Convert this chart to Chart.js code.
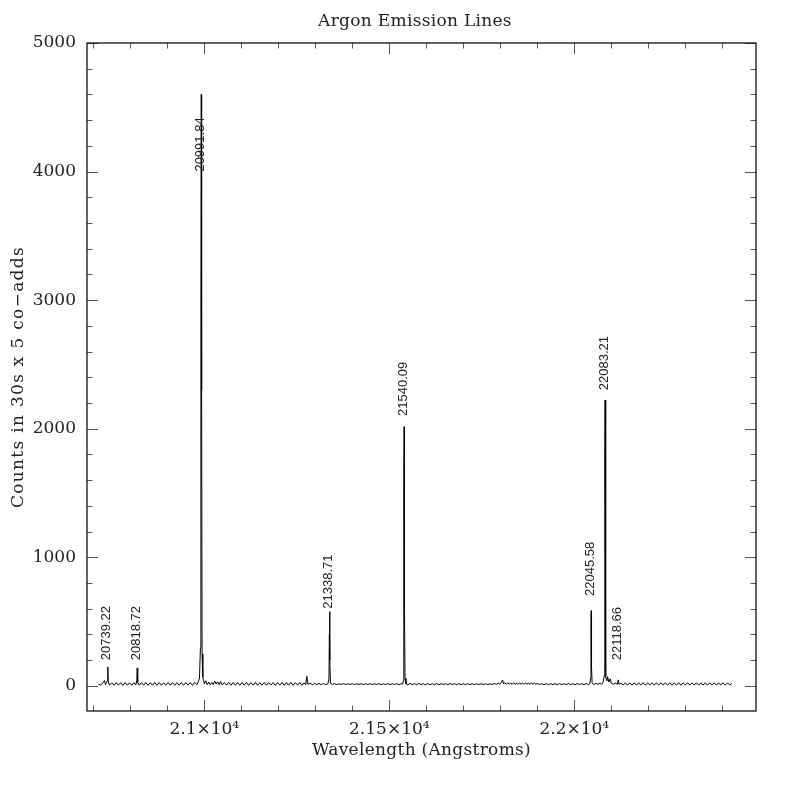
<!DOCTYPE html>
<html>
<head>
<meta charset="utf-8">
<script src="https://cdn.jsdelivr.net/npm/chart.js@4/dist/chart.umd.min.js"></script>
<style>
  html, body { margin: 0; padding: 0; background: #fff; }
</style>
</head>
<body>
<canvas id="myChart" width="797" height="797"></canvas>
<script>
// spectrum (wavelength in Angstroms, counts)
const wavelength = [
  20714, 20720, 20726, 20730, 20733, 20736, 20738, 20739.22, 20740.5, 20744,
  20750, 20756, 20762, 20768, 20774, 20780, 20786, 20792, 20798, 20804,
  20810, 20815, 20817.5, 20818.72, 20820, 20824, 20830, 20836, 20842, 20848,
  20854, 20860, 20866, 20872, 20878, 20884, 20890, 20896, 20902, 20908,
  20914, 20920, 20926, 20932, 20938, 20944, 20950, 20956, 20962, 20968,
  20974, 20980, 20984, 20987, 20989.5, 20990.8, 20991.84, 20992.8, 20994, 20996,
  21000, 21004, 21008, 21012, 21016, 21020, 21024, 21028, 21032, 21036,
  21040, 21044, 21048, 21054, 21060, 21066, 21072, 21078, 21084, 21090,
  21096, 21102, 21108, 21114, 21120, 21126, 21132, 21138, 21144, 21150,
  21156, 21162, 21168, 21174, 21180, 21186, 21192, 21198, 21204, 21210,
  21216, 21222, 21228, 21234, 21240, 21246, 21252, 21258, 21264, 21270,
  21274, 21277, 21280, 21286, 21292, 21298, 21304, 21310, 21316, 21322,
  21328, 21334, 21337, 21338, 21338.71, 21339.6, 21341, 21346, 21352, 21358,
  21364, 21370, 21376, 21382, 21388, 21394, 21400, 21406, 21412, 21418,
  21424, 21430, 21436, 21442, 21448, 21454, 21460, 21466, 21472, 21478,
  21484, 21490, 21496, 21502, 21508, 21514, 21520, 21526, 21532, 21536,
  21538, 21539.2, 21540.09, 21541, 21542.5, 21545, 21550, 21556, 21562, 21568,
  21574, 21580, 21586, 21592, 21598, 21604, 21610, 21616, 21622, 21628,
  21634, 21640, 21646, 21652, 21658, 21664, 21670, 21676, 21682, 21688,
  21694, 21700, 21706, 21712, 21718, 21724, 21730, 21736, 21742, 21748,
  21754, 21760, 21766, 21772, 21778, 21784, 21790, 21794, 21798, 21802,
  21806, 21809, 21812, 21816, 21820, 21824, 21828, 21832, 21836, 21840,
  21844, 21848, 21852, 21856, 21860, 21864, 21868, 21872, 21876, 21880,
  21884, 21888, 21892, 21896, 21900, 21906, 21912, 21918, 21924, 21930,
  21936, 21942, 21948, 21954, 21960, 21966, 21972, 21978, 21984, 21990,
  21996, 22002, 22008, 22014, 22020, 22026, 22032, 22038, 22042, 22044,
  22045, 22045.58, 22046.5, 22048, 22052, 22058, 22064, 22070, 22074, 22078,
  22081, 22082.4, 22083.21, 22084.1, 22085.5, 22088, 22090, 22093, 22097, 22100,
  22106, 22112, 22116, 22118.66, 22121, 22126, 22132, 22138, 22144, 22150,
  22156, 22162, 22168, 22174, 22180, 22186, 22192, 22198, 22204, 22210,
  22216, 22222, 22228, 22234, 22240, 22246, 22252, 22258, 22264, 22270,
  22276, 22282, 22288, 22294, 22300, 22306, 22312, 22318, 22324, 22330,
  22336, 22342, 22348, 22354, 22360, 22366, 22372, 22378, 22384, 22390,
  22396, 22402, 22408, 22414, 22420, 22426
];
const counts = [
  14, 6, 24, 42, 10, 28, 40, 148, 30, 6,
  24, 5, 26, 6, 25, 4, 26, 6, 24, 5,
  26, 8, 40, 140, 28, 5, 26, 6, 27, 5,
  25, 6, 27, 5, 26, 6, 25, 5, 27, 6,
  26, 5, 25, 6, 27, 5, 26, 6, 27, 5,
  28, 10, 35, 62, 300, 3000, 4600, 2300, 250, 70,
  15, 40, 10, 30, 8, 26, 12, 38, 14, 32,
  10, 34, 8, 26, 6, 27, 5, 26, 6, 27,
  5, 26, 6, 27, 5, 26, 6, 27, 5, 26,
  6, 27, 5, 26, 6, 27, 5, 26, 6, 27,
  5, 26, 6, 27, 5, 26, 6, 27, 5, 24,
  10, 75, 12, 22, 8, 20, 10, 20, 9, 19,
  10, 16, 60, 400, 578, 200, 20, 12, 18, 10,
  17, 11, 18, 10, 17, 11, 18, 10, 17, 11,
  18, 10, 17, 11, 18, 10, 17, 11, 18, 10,
  17, 11, 18, 10, 17, 11, 18, 10, 17, 14,
  40, 1500, 2016, 600, 60, 15, 8, 20, 9, 19,
  8, 20, 9, 18, 8, 19, 9, 18, 8, 19,
  9, 18, 10, 18, 9, 19, 10, 18, 9, 18,
  10, 18, 9, 18, 10, 18, 9, 18, 10, 18,
  10, 17, 10, 17, 11, 18, 12, 22, 14, 24,
  46, 16, 26, 12, 24, 14, 22, 12, 25, 13,
  22, 12, 24, 14, 22, 12, 24, 13, 22, 12,
  24, 13, 22, 12, 20, 10, 18, 9, 18, 9,
  18, 10, 18, 9, 18, 10, 18, 9, 19, 10,
  18, 9, 19, 10, 18, 9, 19, 10, 20, 60,
  450, 585, 150, 25, 10, 20, 12, 24, 12, 30,
  80, 1800, 2224, 900, 70, 40, 72, 30, 55, 20,
  14, 22, 12, 47, 12, 22, 8, 24, 6, 24,
  7, 25, 6, 24, 7, 25, 6, 24, 7, 25,
  6, 24, 7, 25, 6, 24, 7, 25, 6, 24,
  7, 25, 6, 24, 7, 25, 6, 24, 7, 25,
  6, 24, 7, 25, 6, 24, 7, 25, 6, 24,
  7, 25, 6, 24, 7, 20
];

// identified lines: label text, wavelength, count where the label starts
const lineNames = ['20739.22', '20818.72', '20991.84', '21338.71', '21540.09', '22045.58', '22083.21', '22118.66'];
const lineWave = [20739.22, 20818.72, 20991.84, 21338.71, 21540.09, 22045.58, 22083.21, 22118.66];
const lineLabelAt = [200, 200, 4000, 600, 2100, 700, 2300, 200];

// tick positions (minor + major) and labelled ticks
const xTicks = [
  20700, 20800, 20900, 21000, 21100, 21200, 21300, 21400, 21500,
  21600, 21700, 21800, 21900, 22000, 22100, 22200, 22300, 22400
];
const xTickValues = [21000, 21500, 22000];
const xTickText = ['2.1\u00d710\u2074', '2.15\u00d710\u2074', '2.2\u00d710\u2074'];
const yTicks = [
  0, 200, 400, 600, 800, 1000, 1200, 1400, 1600, 1800, 2000, 2200, 2400,
  2600, 2800, 3000, 3200, 3400, 3600, 3800, 4000, 4200, 4400, 4600, 4800, 5000
];
const yTickValues = [0, 1000, 2000, 3000, 4000, 5000];

const points = wavelength.map((w, i) => ({ x: w, y: counts[i] }));

const serif = '"DejaVu Serif", serif';

// frame with inward ticks on all four sides, titles and line labels
const framePlugin = {
  id: 'frame',
  afterDraw(chart) {
    const ctx = chart.ctx;
    const a = chart.chartArea;
    const xs = chart.scales.x;
    const ys = chart.scales.y;
    ctx.save();

    ctx.strokeStyle = '#555';
    ctx.lineWidth = 1;
    ctx.beginPath();
    xs.ticks.forEach(t => {
      const len = xTickValues.includes(t.value) ? 11 : 5.5;
      const px = Math.round(xs.getPixelForValue(t.value)) + 0.5;
      ctx.moveTo(px, a.bottom); ctx.lineTo(px, a.bottom - len);
      ctx.moveTo(px, a.top); ctx.lineTo(px, a.top + len);
    });
    ys.ticks.forEach(t => {
      const len = yTickValues.includes(t.value) ? 11 : 5.5;
      const py = Math.round(ys.getPixelForValue(t.value)) + 0.5;
      ctx.moveTo(a.left, py); ctx.lineTo(a.left + len, py);
      ctx.moveTo(a.right, py); ctx.lineTo(a.right - len, py);
    });
    ctx.stroke();

    ctx.strokeStyle = '#111';
    ctx.lineWidth = 1.3;
    ctx.strokeRect(a.left, a.top, a.right - a.left, a.bottom - a.top);

    // line identifications
    ctx.fillStyle = '#222';
    ctx.font = '13px "Liberation Sans", Arial, sans-serif';
    ctx.textAlign = 'left';
    ctx.textBaseline = 'middle';
    lineNames.forEach((name, i) => {
      const px = xs.getPixelForValue(lineWave[i]) - 1;
      const py = ys.getPixelForValue(lineLabelAt[i]);
      ctx.save();
      ctx.translate(px, py);
      ctx.rotate(-Math.PI / 2);
      ctx.fillText(name, 0, 0);
      ctx.restore();
    });

    // titles
    ctx.fillStyle = '#222';
    ctx.font = '17px ' + serif;
    ctx.textAlign = 'center';
    ctx.textBaseline = 'middle';
    ctx.letterSpacing = '0.3px';
    ctx.fillText('Argon Emission Lines', 415, 22);
    ctx.fillText('Wavelength (Angstroms)', (a.left + a.right) / 2, 751);
    ctx.letterSpacing = '1.3px';
    ctx.save();
    ctx.translate(19, (a.top + a.bottom) / 2);
    ctx.rotate(-Math.PI / 2);
    ctx.fillText('Counts in 30s x 5 co\u2212adds', 0, 0);
    ctx.restore();
    ctx.letterSpacing = '0px';

    ctx.restore();
  }
};

const config = {
  type: 'line',
  data: {
    datasets: [{
      data: points,
      borderColor: '#000',
      borderWidth: 1,
      pointRadius: 0,
      tension: 0,
      fill: false
    }]
  },
  options: {
    responsive: false,
    animation: false,
    devicePixelRatio: 1,
    layout: { padding: { top: 43, right: 41, bottom: 0, left: 0 } },
    plugins: {
      legend: { display: false },
      tooltip: { enabled: false },
      title: { display: false }
    },
    scales: {
      x: {
        type: 'linear',
        min: 20683,
        max: 22491,
        afterBuildTicks: s => { s.ticks = xTicks.map(v => ({ value: v })); },
        afterFit: s => { s.height = 86; },
        grid: { display: false, drawTicks: false },
        border: { display: false },
        ticks: {
          autoSkip: false,
          maxRotation: 0,
          padding: 8,
          color: '#222',
          font: { family: serif, size: 17 },
          callback: v => {
            const k = xTickValues.indexOf(v);
            return k >= 0 ? xTickText[k] : '';
          }
        }
      },
      y: {
        type: 'linear',
        min: -195,
        max: 5000,
        afterBuildTicks: s => { s.ticks = yTicks.map(v => ({ value: v })); },
        afterFit: s => { s.width = 87; },
        grid: { display: false, drawTicks: false },
        border: { display: false },
        ticks: {
          autoSkip: false,
          padding: 11,
          color: '#222',
          font: { family: serif, size: 17 },
          callback: v => yTickValues.includes(v) ? String(v) : ''
        }
      }
    }
  },
  plugins: [framePlugin]
};

const myChart = new Chart(document.getElementById('myChart'), config);
</script>
</body>
</html>
